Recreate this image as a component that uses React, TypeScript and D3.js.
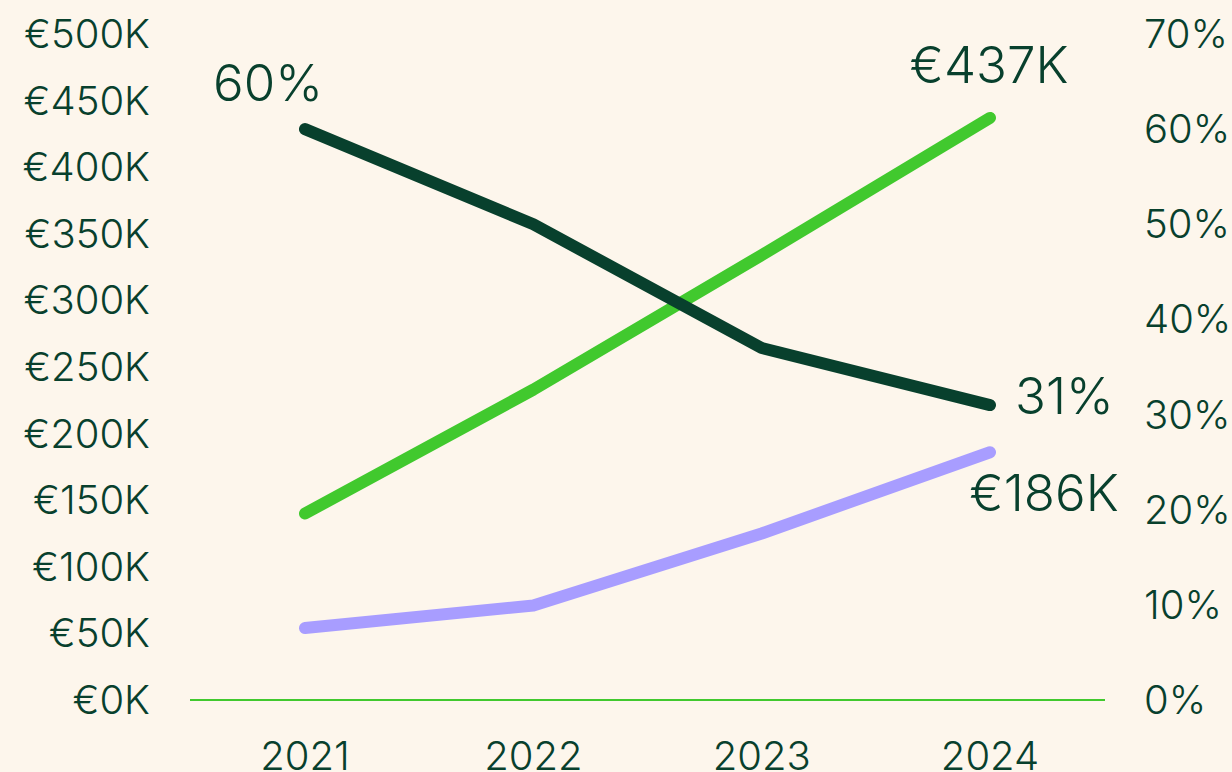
import React from "react";
import * as d3 from "d3";

const years = ["2021", "2022", "2023", "2024"];
const revenue = [140, 233, 334, 437]; // €K, bright green
const cost = [54, 71, 125, 186]; // €K, purple
const margin = [60, 50, 37, 31]; // %, dark green
const leftTicks = [0, 50, 100, 150, 200, 250, 300, 350, 400, 450, 500];
const rightTicks = [0, 10, 20, 30, 40, 50, 60, 70];

const W = 1232;
const H = 772;
const DARK = "#08402d";
const GREEN = "#41c92e";
const PURPLE = "#a89dff";
const BG = "#fdf6ec";
const FONT = "Inter, sans-serif";

export default function App() {
  const x = d3.scalePoint<string>().domain(years).range([305, 990]);
  const yL = d3.scaleLinear().domain([0, 500]).range([700, 34]);
  const yR = d3.scaleLinear().domain([0, 70]).range([700, 34]);
  const lineL = d3
    .line<number>()
    .x((_, i) => x(years[i]) as number)
    .y((d) => yL(d));
  const lineR = d3
    .line<number>()
    .x((_, i) => x(years[i]) as number)
    .y((d) => yR(d));
  const last = years.length - 1;
  return (
    <div style={{ position: "fixed", left: 0, top: 0, width: W, height: H, background: BG }}>
      <svg width={W} height={H} style={{ display: "block" }}>
        <rect width={W} height={H} fill={BG} />
        {leftTicks.map((t) => (
          <text key={"l" + t} x={150} y={yL(t) + 14} textAnchor="end" fontFamily={FONT} fontSize={40} fontWeight={300} fill={DARK}>
            {"€" + t + "K"}
          </text>
        ))}
        {rightTicks.map((t) => (
          <text key={"r" + t} x={1144} y={yR(t) + 14} textAnchor="start" fontFamily={FONT} fontSize={40} fontWeight={300} fill={DARK}>
            {t + "%"}
          </text>
        ))}
        {years.map((yr) => (
          <text key={yr} x={x(yr)} y={770} textAnchor="middle" fontFamily={FONT} fontSize={40} fontWeight={300} fill={DARK}>
            {yr}
          </text>
        ))}
        <line x1={190} x2={1105} y1={yL(0)} y2={yL(0)} stroke={GREEN} strokeWidth={2} />
        <path d={lineL(cost) || ""} fill="none" stroke={PURPLE} strokeWidth={12} strokeLinecap="round" strokeLinejoin="round" />
        <path d={lineL(revenue) || ""} fill="none" stroke={GREEN} strokeWidth={12} strokeLinecap="round" strokeLinejoin="round" />
        <path d={lineR(margin) || ""} fill="none" stroke={DARK} strokeWidth={12} strokeLinecap="round" strokeLinejoin="round" />
        <text x={(x(years[0]) as number) - 37} y={yR(margin[0]) - 28} textAnchor="middle" fontFamily={FONT} fontSize={51} fontWeight={300} fill={DARK}>
          {margin[0] + "%"}
        </text>
        <text x={(x(years[last]) as number) - 1} y={yL(revenue[last]) - 35} textAnchor="middle" fontFamily={FONT} fontSize={51} fontWeight={300} fill={DARK}>
          {"€" + revenue[last] + "K"}
        </text>
        <text x={(x(years[last]) as number) + 25} y={yR(margin[last]) + 9} textAnchor="start" fontFamily={FONT} fontSize={51} fontWeight={300} fill={DARK}>
          {margin[last] + "%"}
        </text>
        <text x={(x(years[last]) as number) + 54} y={yL(cost[last]) + 59} textAnchor="middle" fontFamily={FONT} fontSize={51} fontWeight={300} fill={DARK}>
          {"€" + cost[last] + "K"}
        </text>
      </svg>
    </div>
  );
}
